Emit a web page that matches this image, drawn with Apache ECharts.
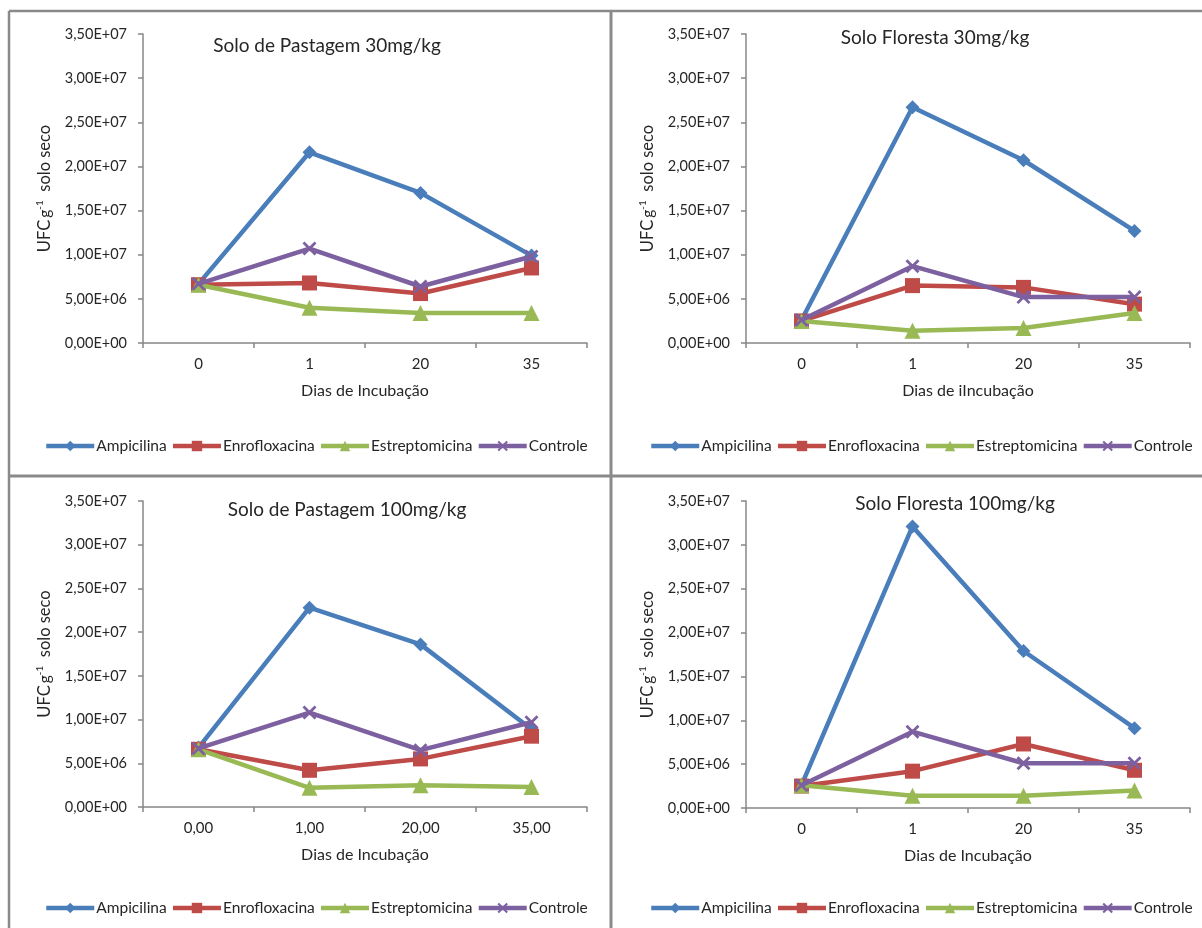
<!DOCTYPE html>
<html>
<head>
<meta charset="utf-8">
<script src="https://cdn.jsdelivr.net/npm/echarts@6/dist/echarts.min.js"></script>
<style>
  html, body { margin: 0; padding: 0; background: #fff; }
  #chart { width: 1202px; height: 928px; }
</style>
</head>
<body>
<div id="chart"></div>
<script>
// Contagem de UFC por g de solo seco ao longo da incubação
const seriesNames = ['Ampicilina', 'Enrofloxacina', 'Estreptomicina', 'Controle'];
const daysInt = ['0', '1', '20', '35'];
const daysDec = ['0,00', '1,00', '20,00', '35,00'];
const yTicks = [0, 5e6, 1e7, 1.5e7, 2e7, 2.5e7, 3e7, 3.5e7];

// Solo de Pastagem 30mg/kg
const pasto30Ampicilina     = [6.7e6, 21.6e6, 17.0e6, 9.9e6];
const pasto30Enrofloxacina  = [6.6e6, 6.8e6, 5.6e6, 8.5e6];
const pasto30Estreptomicina = [6.6e6, 4.0e6, 3.4e6, 3.4e6];
const pasto30Controle       = [6.7e6, 10.7e6, 6.4e6, 9.8e6];

// Solo Floresta 30mg/kg
const floresta30Ampicilina     = [2.6e6, 26.7e6, 20.7e6, 12.7e6];
const floresta30Enrofloxacina  = [2.5e6, 6.5e6, 6.3e6, 4.4e6];
const floresta30Estreptomicina = [2.5e6, 1.4e6, 1.7e6, 3.4e6];
const floresta30Controle       = [2.6e6, 8.7e6, 5.2e6, 5.2e6];

// Solo de Pastagem 100mg/kg
const pasto100Ampicilina     = [6.8e6, 22.8e6, 18.6e6, 8.9e6];
const pasto100Enrofloxacina  = [6.6e6, 4.2e6, 5.5e6, 8.1e6];
const pasto100Estreptomicina = [6.6e6, 2.2e6, 2.5e6, 2.3e6];
const pasto100Controle       = [6.7e6, 10.8e6, 6.5e6, 9.7e6];

// Solo Floresta 100mg/kg
const floresta100Ampicilina     = [2.6e6, 32.1e6, 17.9e6, 9.1e6];
const floresta100Enrofloxacina  = [2.5e6, 4.2e6, 7.3e6, 4.3e6];
const floresta100Estreptomicina = [2.6e6, 1.4e6, 1.4e6, 2.0e6];
const floresta100Controle       = [2.6e6, 8.7e6, 5.1e6, 5.1e6];

const panels = [
  { title: 'Solo de Pastagem 30mg/kg', xName: 'Dias de Incubação', cats: daysInt,
    data: [pasto30Ampicilina, pasto30Enrofloxacina, pasto30Estreptomicina, pasto30Controle],
    grid: { left: 143, top: 34, width: 444, height: 309 }, titlePos: [322, 31], legendTop: 438, legendLeft: 44 },
  { title: 'Solo Floresta 30mg/kg', xName: 'Dias de iIncubação', cats: daysInt,
    data: [floresta30Ampicilina, floresta30Enrofloxacina, floresta30Estreptomicina, floresta30Controle],
    grid: { left: 746, top: 34, width: 444, height: 309 }, titlePos: [930, 23], legendTop: 438, legendLeft: 649 },
  { title: 'Solo de Pastagem 100mg/kg', xName: 'Dias de Incubação', cats: daysDec,
    data: [pasto100Ampicilina, pasto100Enrofloxacina, pasto100Estreptomicina, pasto100Controle],
    grid: { left: 143, top: 501, width: 444, height: 306 }, titlePos: [342, 495], legendTop: 900, legendLeft: 44 },
  { title: 'Solo Floresta 100mg/kg', xName: 'Dias de Incubação', cats: daysInt,
    data: [floresta100Ampicilina, floresta100Enrofloxacina, floresta100Estreptomicina, floresta100Controle],
    grid: { left: 746, top: 501, width: 444, height: 307 }, titlePos: [950, 489], legendTop: 900, legendLeft: 649 }
];

const colors = ['#4A7EBB', '#BE4B48', '#98B954', '#7D60A0'];
const crossPath = 'path://M0,1.4 L1.4,0 L5,3.6 L8.6,0 L10,1.4 L6.4,5 L10,8.6 L8.6,10 L5,6.4 L1.4,10 L0,8.6 L3.6,5 Z';
const symbols = ['diamond', 'rect', 'triangle', crossPath];
const symbolSizes = [14, 15, 16, 14];

const FONT = 'Lato, "Open Sans", sans-serif';
const textColor = '#262626';
const axisGray = '#878787';

function fmtSci(v) {
  if (v === 0) return '0,00E+00';
  const e = Math.floor(Math.log10(v));
  const m = v / Math.pow(10, e);
  return m.toFixed(2).replace('.', ',') + 'E+' + String(e).padStart(2, '0');
}

const option = {
  animation: false,
  backgroundColor: '#ffffff',
  textStyle: { fontFamily: FONT },
  title: [], legend: [], grid: [], xAxis: [], yAxis: [], series: [],
  graphic: []
};

panels.forEach((p, i) => {
  option.grid.push(p.grid);
  option.title.push({
    text: p.title, left: p.titlePos[0], top: p.titlePos[1], textAlign: 'center',
    textStyle: { fontFamily: FONT, fontSize: 19, fontWeight: 'normal', color: textColor }
  });
  option.legend.push({
    data: seriesNames, left: p.legendLeft, top: p.legendTop, orient: 'horizontal',
    width: 560, padding: 0,
    itemWidth: 48, itemHeight: 13, itemGap: 4,
    lineStyle: { width: 4.5 },
    textStyle: { fontFamily: FONT, fontSize: 15.5, color: textColor, padding: [0, 0, 0, -3] },
    selectedMode: false
  });
  option.xAxis.push({
    type: 'category', gridIndex: i, data: p.cats, boundaryGap: true,
    name: p.xName, nameLocation: 'middle', nameGap: 40,
    nameTextStyle: { fontFamily: FONT, fontSize: 16, color: textColor },
    axisLine: { lineStyle: { color: axisGray, width: 1.5 } },
    axisTick: { show: true, length: 5, lineStyle: { color: axisGray, width: 1.5 } },
    axisLabel: { fontFamily: FONT, fontSize: 15, color: textColor, margin: 14 },
    splitLine: { show: false }
  });
  option.yAxis.push({
    type: 'value', gridIndex: i, min: 0, max: yTicks[yTicks.length - 1], interval: yTicks[1] - yTicks[0],
    name: '{a|UFC}{g|g}{s|-1}{a|  solo seco}', nameLocation: 'middle', nameGap: 88, nameRotate: 90,
    nameTextStyle: {
      fontFamily: FONT, color: textColor,
      rich: {
        a: { fontFamily: FONT, fontSize: 16.5, color: textColor },
        g: { fontFamily: FONT, fontSize: 15.5, color: textColor, padding: [0, 0, 0, 2] },
        s: { fontFamily: FONT, fontSize: 10, color: textColor, padding: [0, 0, 10, 0] }
      }
    },
    axisLine: { show: true, lineStyle: { color: axisGray, width: 1.5 } },
    axisTick: { show: true, length: 5, lineStyle: { color: axisGray, width: 1.5 } },
    axisLabel: { fontFamily: FONT, fontSize: 14.5, color: textColor, margin: 16, formatter: fmtSci },
    splitLine: { show: false }
  });
  seriesNames.forEach((name, k) => {
    option.series.push({
      type: 'line', name: name, xAxisIndex: i, yAxisIndex: i,
      data: p.data[k],
      symbol: symbols[k], symbolSize: symbolSizes[k], showAllSymbol: true,
      lineStyle: { color: colors[k], width: 4.5 },
      itemStyle: { color: colors[k] },
      emphasis: { disabled: true },
      z: 2 + k
    });
  });
});

// panel frame
const frameStyle = { stroke: '#8A8A8A', lineWidth: 2.5 };
option.graphic = [
  { type: 'line', shape: { x1: 9, y1: 11, x2: 1202, y2: 11 }, style: frameStyle, silent: true },
  { type: 'line', shape: { x1: 9, y1: 11, x2: 9, y2: 928 }, style: frameStyle, silent: true },
  { type: 'line', shape: { x1: 611, y1: 11, x2: 611, y2: 928 }, style: { stroke: '#8A8A8A', lineWidth: 3 }, silent: true },
  { type: 'line', shape: { x1: 9, y1: 476, x2: 1202, y2: 476 }, style: { stroke: '#8A8A8A', lineWidth: 3 }, silent: true }
];

const chart = echarts.init(document.getElementById('chart'), null, { renderer: 'canvas' });
chart.setOption(option);
</script>
</body>
</html>
